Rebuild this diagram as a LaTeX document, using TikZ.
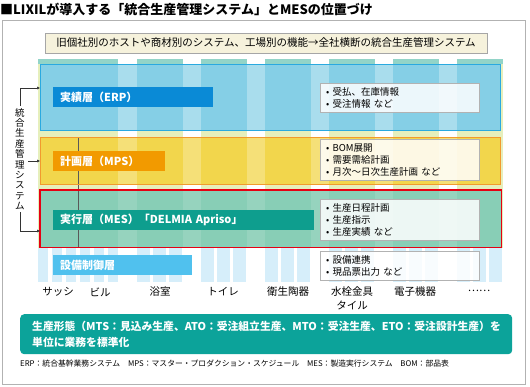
\documentclass[tikz,border=0pt]{standalone}
\usepackage{fontspec}
\setmainfont{Noto Sans CJK JP}
\usetikzlibrary{positioning,arrows.meta}

\definecolor{bgpale}{HTML}{E6EFBC}
\definecolor{colhead}{HTML}{92D4C8}
\definecolor{erpfill}{HTML}{85CFE6}
\definecolor{erpline}{HTML}{2AA9E0}
\definecolor{mpsfill}{HTML}{F2D64C}
\definecolor{mpsline}{HTML}{F29A2E}
\definecolor{mesfill}{HTML}{88CEB6}
\definecolor{mesline}{HTML}{E60012}
\definecolor{eqstripe}{HTML}{D6EEFA}
\definecolor{erplabel}{HTML}{0A8AD6}
\definecolor{mpslabel}{HTML}{F29A00}
\definecolor{meslabel}{HTML}{0E9E8E}
\definecolor{eqlabel}{HTML}{50C1EE}
\definecolor{formbox}{HTML}{0CA39A}
\definecolor{topfill}{HTML}{F6F2DC}

\begin{document}
\begin{tikzpicture}[x=1pt,y=-1pt,
    layerbox/.style={anchor=north west, inner sep=0pt},
    layerlabel/.style={anchor=north west, text=white, inner xsep=7pt, inner ysep=0pt,
      minimum height=20pt, align=left, font=\bfseries\fontsize{11}{13}\selectfont},
    notebox/.style={anchor=north west, draw=gray!60, fill=white, fill opacity=0.85,
      text opacity=1, inner xsep=6pt, inner ysep=0pt, text width=147pt, align=left,
      font=\fontsize{9.5}{12}\selectfont},
    product/.style={font=\fontsize{10.5}{12}\selectfont, inner sep=0pt}]
  \useasboundingbox (0,0) rectangle (530,386);

  % Title and frame
  \node[anchor=base west, inner sep=0pt, font=\bfseries\fontsize{13}{15}\selectfont] (title) at (0,14)
    {■LIXILが導入する「統合生産管理システム」とMESの位置づけ};
  \draw[gray!60, line width=1pt] (2,20) rectangle (525,384);

  \node[draw=gray!70, fill=topfill, minimum width=442pt, minimum height=20pt, inner sep=0pt,
    font=\fontsize{10.5}{12}\selectfont] (scope) at (266,43)
    {旧個社別のホストや商材別のシステム、工場別の機能→全社横断の統合生産管理システム};

  % Background columns
  \fill[bgpale] (38,59) rectangle (503,248);
  \foreach \a/\b in {38/118, 137/183, 201/247, 265/311, 329/375, 393/439, 457/503}
    \fill[colhead] (\a,59) rectangle (\b,64);
  \foreach \a/\b in {118/137, 183/201, 247/265, 311/329, 375/393, 439/457}
    \fill[white] (\a,59) rectangle (\b,248);

  % Equipment stripes
  \foreach \x in {38,52,66,80,94,108}
    \fill[eqstripe] (\x,248) rectangle ++(10,34);
  \foreach \a in {137,201,265,329,393,457}
    \foreach \d in {0,16,32}
      \fill[eqstripe] (\a+\d,248) rectangle ++(13,34);

  % Layers
  \node[layerbox, fill=erpfill, minimum width=460pt, minimum height=66pt] (erpbox) at (40,64) {};
  \node[layerbox, fill=mpsfill, minimum width=460pt, minimum height=47pt] (mpsbox) at (40,137) {};
  \node[layerbox, fill=mesfill, minimum width=461pt, minimum height=57pt] (mesbox) at (40,190) {};
  \foreach \a/\b in {118/137, 183/201, 247/265, 311/329, 375/393, 439/457} {
    \fill[white, opacity=0.3] (\a,64) rectangle (\b,130);
    \fill[white, opacity=0.25] (\a,137) rectangle (\b,184);
    \fill[white, opacity=0.12] (\a,190) rectangle (\b,247);
  }
  \draw[gray!70!black, line width=0.4pt] (78,137) -- (78,248);
  \draw[erpline, line width=1pt] (erpbox.north west) rectangle (erpbox.south east);
  \draw[mpsline, line width=1pt] (mpsbox.north west) rectangle (mpsbox.south east);
  \draw[mesline, line width=1.6pt] (mesbox.north west) rectangle (mesbox.south east);

  % Layer labels
  \node[layerlabel, fill=erplabel, text width=146pt] (erp) at (53,87) {実績層（ERP）};
  \node[layerlabel, fill=mpslabel, text width=98pt] (mps) at (53,151) {計画層（MPS）};
  \node[layerlabel, fill=meslabel, text width=247pt] (mes) at (53,210) {実行層（MES）「DELMIA Apriso」};
  \node[layerlabel, fill=eqlabel, text width=125pt] (eq) at (53,255) {設備制御層};

  % Notes
  \node[notebox, minimum height=29pt] (erpnote) at (320,83) {• 受払、在庫情報\\• 受注情報 など};
  \node[notebox, minimum height=41pt] (mpsnote) at (320,139) {• BOM展開\\• 需要需給計画\\• 月次〜日次生産計画 など};
  \node[notebox, minimum height=41pt] (mesnote) at (320,199) {• 生産日程計画\\• 生産指示\\• 生産実績 など};
  \node[notebox, minimum height=29pt] (eqnote) at (320,251) {• 設備連携\\• 現品票出力 など};

  % Products
  \node[product] (sash) at (58,292) {サッシ};
  \node[product] (bldg) at (100,292) {ビル};
  \node[product] (bath) at (160,292) {浴室};
  \node[product] (toilet) at (223,292) {トイレ};
  \node[product] (ceramic) at (288,292) {衛生陶器};
  \node[product] (faucet) at (352,292) {水栓金具};
  \node[product] (tile) at (352,305) {タイル};
  \node[product] (elec) at (415,292) {電子機器};
  \node[product] (more) at (479,291) {……};

  % Bracket for the integrated system
  \node[align=center, inner sep=0pt, font=\fontsize{9.5}{10.4}\selectfont] (sysname) at (20,159)
    {統\\合\\生\\産\\管\\理\\シ\\ス\\テ\\ム};
  \coordinate (erparrow) at (20,88);
  \coordinate (mesarrow) at (20,231);
  \coordinate (mpsarrow) at (28,161);
  \draw[gray!40!black, line width=0.5pt, -{Latex[length=3pt,width=3pt]}]
    ([yshift=2pt]sysname.north) |- (erpbox.west |- erparrow);
  \draw[gray!40!black, line width=0.5pt, -{Latex[length=3pt,width=3pt]}]
    ([yshift=-2pt]sysname.south) |- (mesbox.west |- mesarrow);
  \draw[gray!40!black, line width=0.5pt, -{Latex[length=3pt,width=3pt]}]
    (mpsarrow) -- (mpsbox.west |- mpsarrow);

  % Production forms
  \node[anchor=north west, fill=formbox, rounded corners=4pt, text=white, minimum width=492pt,
    minimum height=40pt, text width=468pt, inner xsep=12pt, inner ysep=0pt, align=left,
    font=\bfseries\fontsize{10.8}{16}\selectfont] (forms) at (20,314)
    {生産形態（MTS：見込み生産、ATO：受注組立生産、MTO：受注生産、ETO：受注設計生産）を\\単位に業務を標準化};
  \node[anchor=west, inner sep=0pt, font=\fontsize{7.8}{9}\selectfont] (legend) at (20,364)
    {ERP：統合基幹業務システム\quad MPS：マスター・プロダクション・スケジュール\quad MES：製造実行システム\quad BOM：部品表};
\end{tikzpicture}
\end{document}
